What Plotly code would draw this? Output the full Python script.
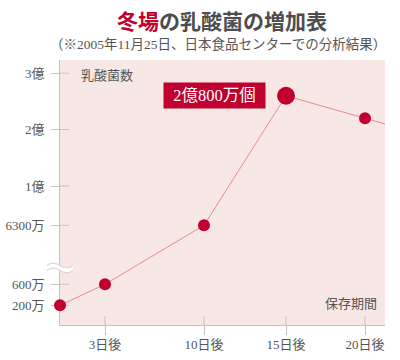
import plotly.graph_objects as go
import numpy as np

# ---- data ----
days = [0, 3, 10, 15, 20, 21.2]
counts_man = [200, 600, 6300, 26000, 22000, 21000]   # 単位: 万
marker_sizes = [12, 12, 12, 18, 12, 0]

x_tick_days = [3, 10, 15, 20]
x_tick_text = ["3日後", "10日後", "15日後", "20日後"]

y_tick_vals = [200, 600, 6300, 10000, 20000, 30000]
y_tick_text = ["200万", "600万", "6300万", "1億", "2億", "3億"]

peak_label = "2億800万個"

# hand-drawn (piecewise) scales of the original chart
y_scale_vals = [0, 200, 600, 6300, 10000, 20000, 30000, 32500]
y_scale_pos = [0, 19.7, 40.7, 99.7, 139.0, 195.4, 251.8, 265.9]
x_scale_days = [0, 3, 10, 15, 20, 21.2]
x_scale_pos = [0, 45, 144, 226, 305, 325]


def ypos(v):
    return float(np.interp(v, y_scale_vals, y_scale_pos))


def xpos(d):
    return float(np.interp(d, x_scale_days, x_scale_pos))


RED = "#c0002f"
GRAY = "#555555"
AXIS = "#c9c1c1"
FONT = "Liberation Serif, Noto Sans CJK JP"
CJK = "Noto Sans CJK JP"

fig = go.Figure()
fig.add_trace(go.Scatter(
    x=[xpos(d) for d in days], y=[ypos(v) for v in counts_man],
    mode="lines",
    line=dict(color="#e48c8c", width=1),
    cliponaxis=False, hoverinfo="skip", showlegend=False,
))
fig.add_trace(go.Scatter(
    x=[xpos(d) for d in days[:5]], y=[ypos(v) for v in counts_man[:5]],
    mode="markers",
    marker=dict(color=RED, size=marker_sizes[:5], opacity=1, line=dict(width=0)),
    cliponaxis=False, hoverinfo="skip", showlegend=False,
))

shapes = []
# inner part of crossing ticks
for v in y_tick_vals:
    shapes.append(dict(type="line", xref="paper", yref="y", x0=0, x1=9 / 325,
                       y0=ypos(v), y1=ypos(v), line=dict(color=AXIS, width=1), layer="below"))
for d in x_tick_days:
    shapes.append(dict(type="line", xref="x", yref="paper", x0=xpos(d), x1=xpos(d),
                       y0=0, y1=9 / 265, line=dict(color=AXIS, width=1), layer="below"))
# axis break symbol (white band with two wavy outlines)
brk = dict(xref="paper", yref="paper", xsizemode="pixel", ysizemode="pixel",
           xanchor=0, yanchor=56.5 / 265, type="path")
shapes.append(dict(brk, path="M -13,3 C -8,7 -4,5 0,3 S 8,-1 13,3 L 13,-2 C 8,-6 4,-4 0,-2 S -8,2 -13,-2 Z",
                   fillcolor="white", line=dict(width=0), layer="above"))
shapes.append(dict(brk, path="M -13,3 C -8,7 -4,5 0,3 S 8,-1 13,3",
                   line=dict(color="#cfcfcf", width=1), layer="above"))
shapes.append(dict(brk, path="M -13,-2 C -8,2 -4,0 0,-2 S 8,-6 13,-2",
                   line=dict(color="#cfcfcf", width=1), layer="above"))


def ann(text, px, py, font, xanchor="center", **kw):
    return dict(text=text, xref="paper", yref="paper",
                x=(px - 60) / 325, y=(325 - py) / 265,
                xanchor=xanchor, yanchor="middle", showarrow=False, font=font, **kw)


annotations = [
    ann('<span style="color:%s">冬場</span>の乳酸菌の増加表' % RED, 222, 20,
        dict(family=CJK, size=21, color="#4d4d4d", weight=600)),
    ann("（※2005年11月25日、日本食品センターでの分析結果）", 218, 44,
        dict(family=FONT, size=13.5, color=GRAY)),
    ann("乳酸菌数", 79, 74, dict(family=CJK, size=13, color=GRAY), xanchor="left"),
    ann("保存期間", 379, 302, dict(family=CJK, size=13, color=GRAY), xanchor="right"),
    ann(peak_label, 214, 95.5, dict(family=FONT, size=16.5, color="white"),
        bgcolor=RED, borderpad=4, width=93, height=17),
]

fig.update_layout(
    width=400, height=360,
    margin=dict(l=60, r=15, t=60, b=35, autoexpand=False),
    paper_bgcolor="white", plot_bgcolor="#f8e8e5",
    shapes=shapes, annotations=annotations,
    xaxis=dict(range=[0, 325], tickvals=[xpos(d) for d in x_tick_days], ticktext=x_tick_text,
               automargin=False, layer="below traces",
               showgrid=False, zeroline=False, showline=True, linecolor=AXIS, linewidth=1,
               ticks="outside", ticklen=9, tickcolor=AXIS, ticklabelstandoff=-2,
               tickfont=dict(family=FONT, size=13, color=GRAY), fixedrange=True),
    yaxis=dict(range=[0, 265], tickvals=[ypos(v) for v in y_tick_vals], ticktext=y_tick_text,
               automargin=False, layer="below traces",
               showgrid=False, zeroline=False, showline=True, linecolor=AXIS, linewidth=1,
               ticks="outside", ticklen=8, tickcolor=AXIS, ticklabelstandoff=4,
               tickfont=dict(family=FONT, size=13, color=GRAY), fixedrange=True),
)

fig.write_html("out.html", config={"displayModeBar": False},
               post_script="document.body.style.margin='0';")
